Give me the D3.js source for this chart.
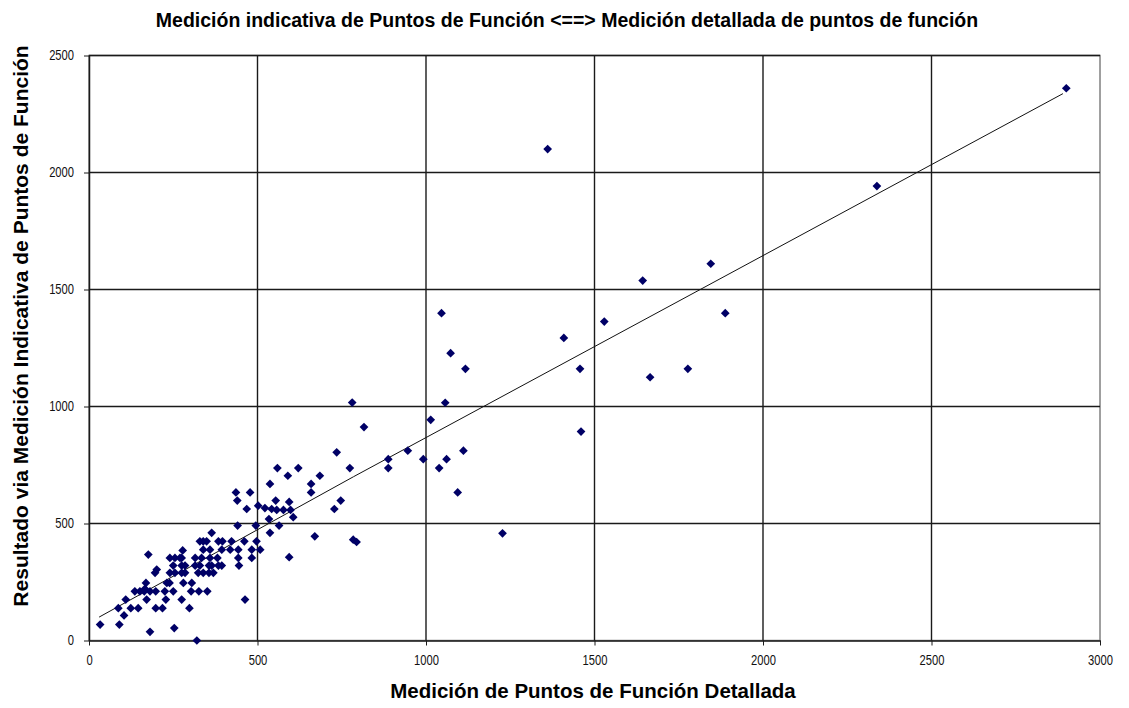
<!DOCTYPE html>
<html>
<head>
<meta charset="utf-8">
<script src="https://cdn.jsdelivr.net/npm/d3@7"></script>
<style>
  body { margin: 0; background: #fff; }
  text { font-family: Arial, "Liberation Sans", sans-serif; }
</style>
</head>
<body>
<div id="chart"></div>
<script>
// measured points: detailed FP (x) vs indicative FP (y)
const detallada = [
  33, 90, 181, 253, 320, 104, 87, 124, 146, 198, 218, 298,
  109, 171, 228, 275, 463, 136, 151, 164, 181, 198, 225, 250, 303, 326, 351, 166,
  169, 231, 239, 280, 305, 196, 240, 255, 275, 285, 324, 339, 356, 369, 201,
  250, 275, 285, 315, 329, 356, 364, 384, 394, 445,
  240, 255, 270, 275, 315, 334, 359, 381, 443, 483, 176, 278,
  339, 359, 394, 419, 443, 483, 508, 329, 339, 349, 384, 396, 423, 461, 497, 364,
  735, 559, 621, 590, 685, 537, 659, 659, 436, 478, 440, 554, 594, 747, 468,
  502, 522, 542, 557, 577, 598, 728, 534, 606, 564, 441, 495, 537, 670, 594,
  781, 816, 774, 888, 888, 946, 992, 1039, 1061, 1111, 1094, 784, 794, 1227,
  1361, 1643, 1845, 1888, 1046, 1529, 1073, 1117, 1409, 1457, 1665, 1777, 1057, 1014, 1460,
  2338, 2900
];
const indicativa = [
  68, 68, 37, 53, 0, 107, 138, 138, 138, 138, 138, 138,
  175, 175, 175, 175, 175, 210, 210, 210, 210, 210, 210, 210, 210, 210, 210, 221,
  246, 246, 246, 246, 246, 289, 289, 289, 289, 289, 289, 289, 289, 289, 303,
  320, 320, 320, 320, 320, 320, 320, 320, 320, 320,
  353, 353, 353, 353, 353, 353, 353, 353, 353, 353, 367, 385,
  388, 388, 388, 388, 388, 388, 388, 424, 424, 424, 424, 424, 424, 424, 424, 460,
  804, 737, 737, 704, 704, 669, 669, 633, 633, 633, 598, 598, 592, 598, 562,
  576, 566, 562, 558, 558, 558, 562, 519, 527, 491, 491, 491, 460, 445, 356,
  1017, 912, 737, 775, 737, 811, 775, 737, 775, 811, 633, 431, 421, 458,
  2100, 1538, 1610, 1399, 1399, 1363, 1228, 1161, 1293, 1161, 1125, 1161, 1016, 943, 893,
  1942, 2360
];
// trend line
const trendX = [30, 785, 2890];
const trendY = [100, 700, 2337];

const xTicks = [0, 500, 1000, 1500, 2000, 2500, 3000];
const yTicks = [0, 500, 1000, 1500, 2000, 2500];

const titulo = "Medición indicativa de Puntos de Función <==> Medición detallada de puntos de función";
const tituloX = "Medición de Puntos de Función Detallada";
const tituloY = "Resultado via Medición Indicativa de Puntos de Función";

const width = 1129, height = 708;
const margin = {top: 55.5, right: 29, bottom: 67.5, left: 89};

const svg = d3.select("#chart").append("svg")
  .attr("width", width)
  .attr("height", height);

const x = d3.scaleLinear().domain([0, 3000]).range([margin.left, width - margin.right]);
const y = d3.scaleLinear().domain([0, 2500]).range([height - margin.bottom, margin.top]);

// plot frame
svg.append("rect")
  .attr("x", x(0)).attr("y", y(2500))
  .attr("width", x(3000) - x(0)).attr("height", y(0) - y(2500))
  .attr("fill", "#fff").attr("stroke", "#808080").attr("stroke-width", 1.5);

// gridlines
svg.append("g").selectAll("line")
  .data(xTicks.slice(1, -1)).join("line")
  .attr("x1", d => x(d)).attr("x2", d => x(d))
  .attr("y1", y(0)).attr("y2", y(2500))
  .attr("stroke", "#1a1a1a").attr("stroke-width", 1.4);
svg.append("g").selectAll("line")
  .data(yTicks.slice(1)).join("line")
  .attr("x1", x(0)).attr("x2", x(3000))
  .attr("y1", d => y(d)).attr("y2", d => y(d))
  .attr("stroke", "#1a1a1a").attr("stroke-width", 1.4);

// axes
const xAxis = svg.append("g")
  .attr("transform", `translate(0,${y(0)})`)
  .call(d3.axisBottom(x).tickValues(xTicks).tickFormat(d3.format("d"))
    .tickSize(5).tickPadding(10).tickSizeOuter(0));
const yAxis = svg.append("g")
  .attr("transform", `translate(${x(0)},0)`)
  .call(d3.axisLeft(y).tickValues(yTicks).tickFormat(d3.format("d"))
    .tickSize(5).tickPadding(10).tickSizeOuter(0));
[xAxis, yAxis].forEach(a => {
  a.select(".domain").attr("stroke", "#1a1a1a").attr("stroke-width", 1.5);
  a.selectAll(".tick line").attr("stroke", "#1a1a1a");
  a.selectAll(".tick text").attr("font-size", 14).attr("fill", "#111")
    .style("font-family", "Arial, 'Liberation Sans', sans-serif");
});
// narrow digits like the original
xAxis.selectAll(".tick text").attr("transform", "scale(0.8,1)");
yAxis.selectAll(".tick text")
  .attr("x", -15 / 0.8)
  .attr("transform", "scale(0.8,1)");

// trend line
const pts = trendX.map((d, i) => [d, trendY[i]]);
svg.append("path")
  .datum(pts)
  .attr("fill", "none")
  .attr("stroke", "#111")
  .attr("stroke-width", 1)
  .attr("d", d3.line().x(d => x(d[0])).y(d => y(d[1])));

// diamond markers
const diamond = d3.symbol(d3.symbolSquare, 38);
svg.append("g").selectAll("path")
  .data(detallada.map((d, i) => [d, indicativa[i]]))
  .join("path")
  .attr("d", diamond)
  .attr("transform", d => `translate(${x(d[0])},${y(d[1])}) rotate(45)`)
  .attr("fill", "#000066");

// titles
svg.append("text")
  .attr("x", 567).attr("y", 27)
  .attr("text-anchor", "middle")
  .attr("font-size", 19.5).attr("font-weight", "bold")
  .text(titulo);

svg.append("text")
  .attr("x", 593).attr("y", 698)
  .attr("text-anchor", "middle")
  .attr("font-size", 20.5).attr("font-weight", "bold")
  .text(tituloX);

svg.append("text")
  .attr("transform", `translate(28,326) rotate(-90)`)
  .attr("text-anchor", "middle")
  .attr("font-size", 21).attr("font-weight", "bold")
  .text(tituloY);
</script>
</body>
</html>
